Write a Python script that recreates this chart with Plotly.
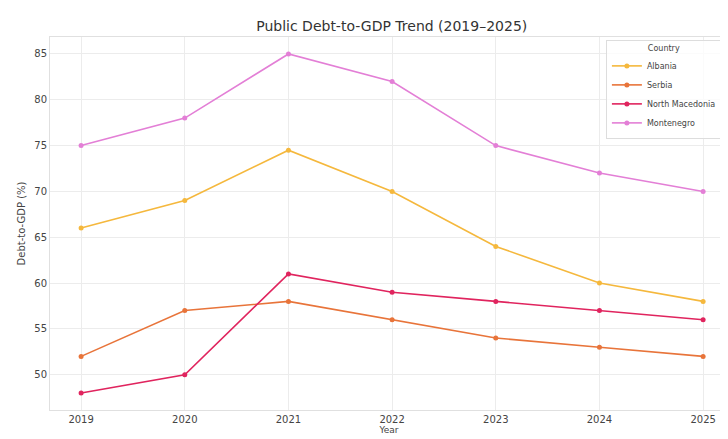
import plotly.graph_objects as go

years = [2019, 2020, 2021, 2022, 2023, 2024, 2025]
countries = ["Albania", "Serbia", "North Macedonia", "Montenegro"]
albania = [66, 69, 74.5, 70, 64, 60, 58]
serbia = [52, 57, 58, 56, 54, 53, 52]
north_macedonia = [48, 50, 61, 59, 58, 57, 56]
montenegro = [75, 78, 85, 82, 75, 72, 70]
colors = ["#f5b83d", "#e8743a", "#e0245e", "#e37fd6"]

series = [albania, serbia, north_macedonia, montenegro]

fig = go.Figure()
for name, vals, c in zip(countries, series, colors):
    fig.add_trace(go.Scatter(
        x=years, y=vals, name=name, mode="lines+markers",
        line=dict(color=c, width=1.6),
        marker=dict(color=c, size=5),
    ))

fig.update_layout(
    width=720, height=431,
    margin=dict(l=42, r=0, t=29, b=29, autoexpand=False),
    paper_bgcolor="white", plot_bgcolor="white",
    font=dict(family="DejaVu Sans", color="#444444", size=10),
    title=dict(text="Public Debt-to-GDP Trend (2019–2025)", x=0.533, xanchor="center",
               yref="container", y=0.958, yanchor="middle", font=dict(size=14, color="#333333")),
    xaxis=dict(range=[2018.7, 2025.24], tickvals=years, showgrid=True, gridcolor="#ececec",
               zeroline=False, showline=True, linecolor="#e0e0e0", mirror=True, automargin=False,
               title=dict(text="Year", font=dict(size=9), standoff=0), ticks="", tickfont=dict(size=10)),
    yaxis=dict(range=[46.15, 86.85], tickvals=[50, 55, 60, 65, 70, 75, 80, 85], showgrid=True,
               gridcolor="#ececec", zeroline=False, showline=True, linecolor="#e0e0e0", mirror=True,
               automargin=False,
               title=dict(text="Debt-to-GDP (%)", font=dict(size=10), standoff=6), ticks="", tickfont=dict(size=10)),
    legend=dict(title=dict(text="Country", side="top center", font=dict(size=8)),
                x=0.991, y=0.992, xanchor="right", yanchor="top",
                bgcolor="rgba(255,255,255,0.8)", bordercolor="#dddddd", borderwidth=1,
                font=dict(size=8), itemwidth=30, tracegroupgap=0),
)

fig.write_html("out.html")
